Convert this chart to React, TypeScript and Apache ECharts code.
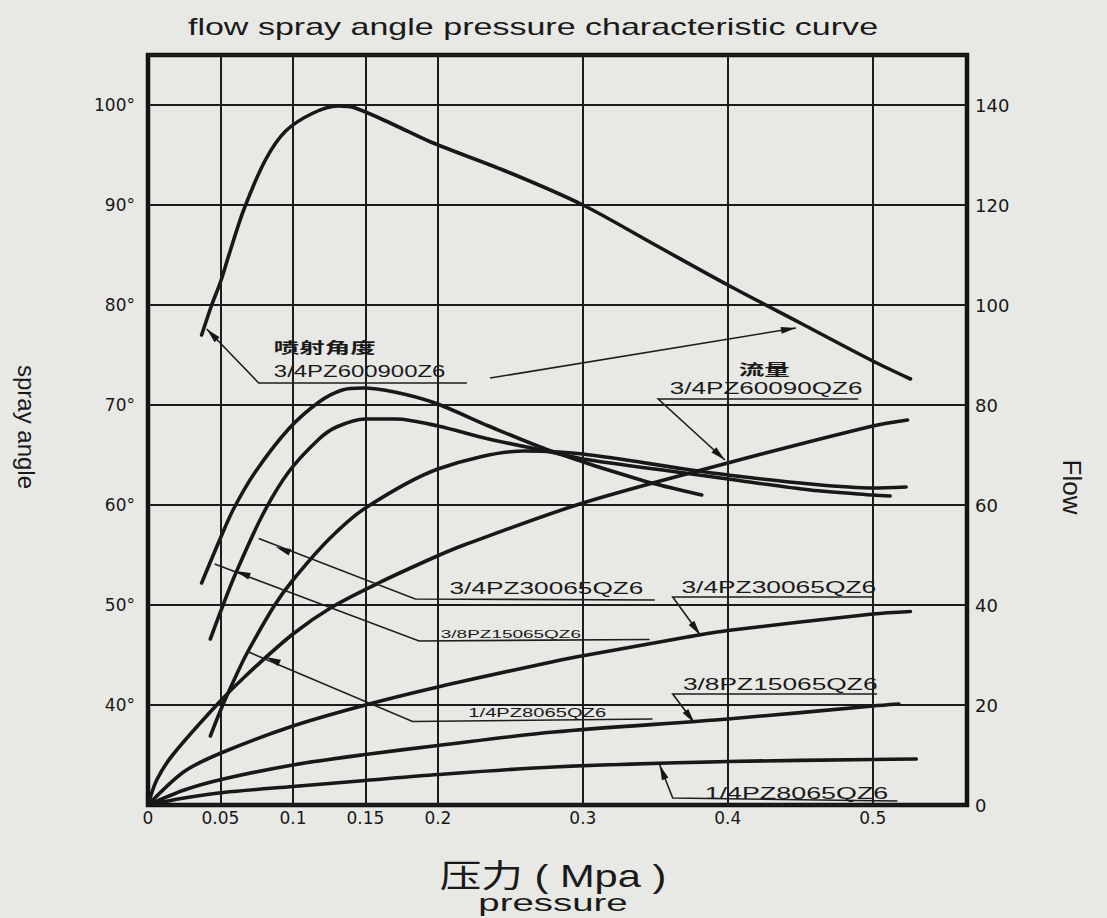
import React, { useEffect, useRef } from "react";
import * as echarts from "echarts";

// ---------- axis ticks ----------
const pressureTicks = [0, 0.05, 0.1, 0.15, 0.2, 0.3, 0.4, 0.5];
const angleTicks = [40, 50, 60, 70, 80, 90, 100];
const flowTicks = [0, 20, 40, 60, 80, 100, 120, 140];

// ---------- spray angle curves (pressure MPa, angle °) ----------
const angle_34PZ60090QZ6: [number, number][] = [
  [0.037, 77.0], [0.0437, 79.9], [0.05, 82.3], [0.0556, 84.9], [0.066, 89.5],
  [0.081, 94.5], [0.095, 97.4], [0.114, 99.2], [0.131, 99.9], [0.143, 99.7],
  [0.17, 98.0], [0.195, 96.3], [0.25, 93.2], [0.3, 90.0], [0.35, 86.0],
  [0.4, 82.0], [0.45, 78.2], [0.5, 74.4], [0.526, 72.6],
];
const angle_34PZ30065QZ6: [number, number][] = [
  [0.037, 52.2], [0.05, 56.7], [0.059, 59.6], [0.074, 63.3], [0.097, 67.6],
  [0.118, 70.3], [0.134, 71.5], [0.148, 71.7], [0.17, 71.3], [0.198, 70.2],
  [0.235, 67.9], [0.278, 65.4], [0.34, 62.5], [0.382, 61.0],
];
const angle_38PZ15065QZ6: [number, number][] = [
  [0.043, 46.6], [0.051, 49.7], [0.06, 53.0], [0.079, 59.0], [0.097, 63.3],
  [0.118, 66.6], [0.13, 67.8], [0.15, 68.6], [0.171, 68.6], [0.2, 67.9],
  [0.235, 66.6], [0.278, 65.3], [0.3, 64.6], [0.37, 63.2], [0.4, 62.6],
  [0.457, 61.5], [0.5, 61.0], [0.512, 60.9],
];
const angle_14PZ8065QZ6: [number, number][] = [
  [0.043, 36.9], [0.051, 39.8], [0.06, 42.7], [0.068, 45.1], [0.087, 49.9],
  [0.1, 52.5], [0.125, 56.6], [0.15, 59.7], [0.2, 63.6], [0.26, 65.4], [0.3, 65.1],
  [0.37, 63.6], [0.4, 63.0], [0.457, 62.1], [0.5, 61.7], [0.523, 61.8],
];

// ---------- flow curves (pressure MPa, flow) ----------
const flow_34PZ60090QZ6: [number, number][] = [
  [0, 0], [0.006, 5], [0.017, 10], [0.048, 20.2], [0.068, 26.0], [0.1, 34.2],
  [0.127, 39.6], [0.159, 44.4], [0.198, 49.6], [0.218, 52.0], [0.3, 60.4],
  [0.4, 68.4], [0.5, 75.8], [0.524, 77.0],
];
const flow_34PZ30065QZ6: [number, number][] = [
  [0, 0], [0.025, 6.7], [0.052, 10.6], [0.1, 15.8], [0.15, 20.0], [0.2, 23.6],
  [0.28, 28.7], [0.303, 30.0], [0.372, 33.6], [0.4, 34.9], [0.5, 38.2], [0.526, 38.7],
];
const flow_38PZ15065QZ6: [number, number][] = [
  [0, 0], [0.025, 3.0], [0.052, 5.2], [0.1, 8.0], [0.15, 10.1], [0.2, 11.9],
  [0.28, 14.6], [0.4, 17.2], [0.5, 19.8], [0.518, 20.2],
];
const flow_14PZ8065QZ6: [number, number][] = [
  [0, 0], [0.025, 1.4], [0.052, 2.5], [0.1, 3.7], [0.15, 4.9], [0.2, 6.1],
  [0.28, 7.6], [0.4, 8.7], [0.5, 9.1], [0.53, 9.2],
];

// ---------- annotations (placed in pressure / angle coordinates) ----------
type Label = { text: string; at: [number, number]; size: number; sx: number; bold?: boolean; cjk?: boolean };
const labels: Label[] = [
  { text: "喷射角度", at: [0.0868, 75.7], size: 15, sx: 1.7, bold: true, cjk: true },
  { text: "3/4PZ600900Z6", at: [0.0868, 73.4], size: 16.5, sx: 1.45 },
  { text: "流量", at: [0.4076, 73.5], size: 15, sx: 1.7, bold: true, cjk: true },
  { text: "3/4PZ60090QZ6", at: [0.36, 71.7], size: 16.5, sx: 1.58 },
  { text: "3/4PZ30065QZ6", at: [0.208, 51.7], size: 16.5, sx: 1.59 },
  { text: "3/8PZ15065QZ6", at: [0.202, 47.1], size: 11.5, sx: 1.65 },
  { text: "1/4PZ8065QZ6", at: [0.221, 39.2], size: 12, sx: 1.68 },
  { text: "3/4PZ30065QZ6", at: [0.368, 51.8], size: 17, sx: 1.55 },
  { text: "3/8PZ15065QZ6", at: [0.369, 42.1], size: 17, sx: 1.55 },
  { text: "1/4PZ8065QZ6", at: [0.384, 31.2], size: 17, sx: 1.58 },
];

type Leader = { pts: [number, number][]; arrowAt: [number, number]; arrowFrom: [number, number] };
const leaders: Leader[] = [
  { pts: [[0.0405, 77.6], [0.0764, 72.2], [0.22, 72.2]], arrowAt: [0.0405, 77.6], arrowFrom: [0.0764, 72.2] },
  { pts: [[0.447, 77.7], [0.236, 72.7]], arrowAt: [0.447, 77.7], arrowFrom: [0.236, 72.7] },
  { pts: [[0.398, 64.5], [0.352, 70.6], [0.49, 70.6]], arrowAt: [0.398, 64.5], arrowFrom: [0.352, 70.6] },
  { pts: [[0.0764, 56.65], [0.1844, 50.6], [0.3496, 50.5]], arrowAt: [0.0882, 55.8], arrowFrom: [0.1844, 50.6] },
  { pts: [[0.046, 54.1], [0.187, 46.4], [0.346, 46.55]], arrowAt: [0.0604, 53.4], arrowFrom: [0.187, 46.4] },
  { pts: [[0.0694, 45.3], [0.1825, 38.35], [0.348, 38.6]], arrowAt: [0.0813, 44.8], arrowFrom: [0.1825, 38.35] },
  { pts: [[0.381, 47.0], [0.362, 50.8], [0.5, 50.8]], arrowAt: [0.381, 47.0], arrowFrom: [0.362, 50.8] },
  { pts: [[0.377, 38.2], [0.362, 41.1], [0.503, 41.1]], arrowAt: [0.377, 38.2], arrowFrom: [0.362, 41.1] },
  { pts: [[0.353, 34.0], [0.362, 30.7], [0.517, 30.4]], arrowAt: [0.353, 34.0], arrowFrom: [0.362, 30.7] },
];

const INK = "#181818";
const FONT = '"Liberation Sans", Arial, sans-serif';
const CJK = '"Liberation Sans", "Noto Sans CJK SC", sans-serif';
const TICKFONT = '"DejaVu Sans", sans-serif';

function near(list: number[], v: number) {
  return list.some((t) => Math.abs(t - v) < 1e-6);
}

export default function App() {
  const ref = useRef<HTMLDivElement>(null);

  useEffect(() => {
    document.body.style.margin = "0";
    const chart = echarts.init(ref.current!, null, { renderer: "svg" });

    const line = (name: string, data: [number, number][], yAxisIndex: number, extra: any = {}) => ({
      type: "line",
      name,
      data,
      yAxisIndex,
      showSymbol: false,
      smooth: 0.3,
      silent: true,
      z: 4,
      lineStyle: { color: INK, width: 3.6, cap: "round", join: "round" },
      itemStyle: { color: INK },
      ...extra,
    });

    chart.setOption({
      animation: false,
      backgroundColor: "#e8e8e5",
      grid: {
        left: 148,
        right: 140,
        top: 55,
        bottom: 113,
        show: true,
        borderColor: "#121212",
        borderWidth: 4.5,
        backgroundColor: "transparent",
      },
      xAxis: {
        type: "value",
        min: 0,
        max: 0.565,
        interval: 0.05,
        axisLine: { show: false },
        axisTick: { show: false },
        splitLine: { show: false },
        axisLabel: {
          margin: 4,
          fontSize: 17,
          fontFamily: TICKFONT,
          color: INK,
          formatter: (v: number) => {
            const r = Math.round(v * 1000) / 1000;
            return near(pressureTicks, r) ? String(r) : "";
          },
        },
      },
      yAxis: [
        {
          type: "value",
          min: 30,
          max: 105,
          interval: 10,
          axisLine: { show: false },
          axisTick: { show: false },
          splitLine: { show: true, lineStyle: { color: "#1c1c1c", width: 2 } },
          axisLabel: {
            margin: 13,
            fontSize: 17,
            fontFamily: TICKFONT,
            color: INK,
            formatter: (v: number) => (near(angleTicks, v) ? `${v}°` : ""),
          },
        },
        {
          type: "value",
          position: "right",
          min: 0,
          max: 150,
          interval: 20,
          axisLine: { show: false },
          axisTick: { show: false },
          splitLine: { show: false },
          axisLabel: {
            margin: 8,
            fontSize: 18,
            fontFamily: TICKFONT,
            color: INK,
            formatter: (v: number) => (near(flowTicks, v) ? String(v) : ""),
          },
        },
      ],
      series: [
        line("3/4PZ60090QZ6 喷射角度", angle_34PZ60090QZ6, 0, {
          markLine: {
            silent: true,
            symbol: ["none", "none"],
            label: { show: false },
            lineStyle: { color: "#1c1c1c", width: 2, type: "solid" },
            emphasis: { disabled: true },
            data: pressureTicks.filter((v) => v > 0).map((v) => ({ xAxis: v })),
          },
        }),
        line("3/4PZ30065QZ6 喷射角度", angle_34PZ30065QZ6, 0),
        line("3/8PZ15065QZ6 喷射角度", angle_38PZ15065QZ6, 0),
        line("1/4PZ8065QZ6 喷射角度", angle_14PZ8065QZ6, 0),
        line("3/4PZ60090QZ6 流量", flow_34PZ60090QZ6, 1),
        line("3/4PZ30065QZ6 流量", flow_34PZ30065QZ6, 1),
        line("3/8PZ15065QZ6 流量", flow_38PZ15065QZ6, 1),
        line("1/4PZ8065QZ6 流量", flow_14PZ8065QZ6, 1),
      ],
    });

    const toPx = (p: [number, number]) => chart.convertToPixel({ seriesIndex: 0 }, p) as number[];

    const graphics: any[] = [];

    // leader lines with arrowheads
    leaders.forEach((ld) => {
      const pts = ld.pts.map(toPx);
      graphics.push({
        type: "polyline",
        silent: true,
        z: 20,
        shape: { points: pts },
        style: { stroke: "#1e1e1e", lineWidth: 1.6, fill: null },
      });
      const tip = toPx(ld.arrowAt);
      const from = toPx(ld.arrowFrom);
      const dx = tip[0] - from[0];
      const dy = tip[1] - from[1];
      const L = Math.hypot(dx, dy) || 1;
      const ux = dx / L;
      const uy = dy / L;
      const len = 15;
      const w = 7;
      const bx = tip[0] - ux * len;
      const by = tip[1] - uy * len;
      graphics.push({
        type: "polygon",
        silent: true,
        z: 21,
        shape: {
          points: [
            [tip[0], tip[1]],
            [bx - uy * (w / 2), by + ux * (w / 2)],
            [bx + uy * (w / 2), by - ux * (w / 2)],
          ],
        },
        style: { fill: "#161616" },
      });
    });

    // annotation labels
    labels.forEach((lb) => {
      const p = toPx(lb.at);
      graphics.push({
        type: "text",
        silent: true,
        z: 22,
        x: p[0],
        y: p[1],
        scaleX: lb.sx,
        style: {
          text: lb.text,
          fontSize: lb.size,
          fontFamily: lb.cjk ? CJK : FONT,
          fontWeight: lb.bold ? "bold" : "normal",
          fill: "#1a1a1a",
          align: "left",
          verticalAlign: "middle",
          textAlign: "left",
          textVerticalAlign: "middle",
        },
      });
    });

    const bigText = (text: string, x: number, y: number, size: number, sx: number, rot = 0, family = FONT) => ({
      type: "text",
      silent: true,
      z: 22,
      x,
      y,
      scaleX: sx,
      rotation: rot,
      style: {
        text,
        fontSize: size,
        fontFamily: family,
        fill: "#1a1a1a",
        align: "center",
        verticalAlign: "middle",
        textAlign: "center",
        textVerticalAlign: "middle",
      },
    });

    graphics.push(bigText("flow spray angle pressure characteristic curve", 533, 27, 23, 1.48));
    graphics.push(bigText("压力 ( Mpa )", 553, 876, 32, 1.3, 0, CJK));
    graphics.push(bigText("pressure", 553, 903, 24, 1.6));
    graphics.push(bigText("spray angle", 26, 427, 24, 1, -Math.PI / 2));
    graphics.push(bigText("Flow", 1072, 487, 26, 1, -Math.PI / 2));

    chart.setOption({ graphic: graphics });

    return () => chart.dispose();
  }, []);

  return <div ref={ref} style={{ width: 1107, height: 918 }} />;
}
